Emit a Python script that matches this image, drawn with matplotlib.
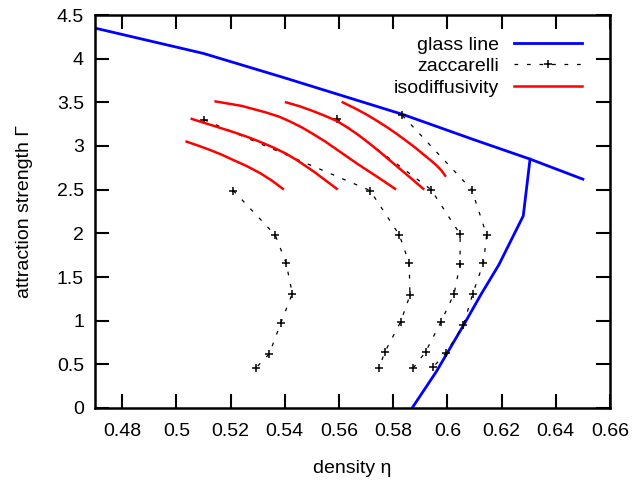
import matplotlib
matplotlib.use('Agg')
import matplotlib.pyplot as plt
from matplotlib.ticker import FuncFormatter

plt.rcParams['font.family'] = ['Liberation Sans', 'DejaVu Sans']

# glass transition line: upper branch and the re-entrant lower branch
glass_upper_eta = [0.470, 0.510, 0.540, 0.5837, 0.610, 0.6305, 0.650]
glass_upper_gam = [4.35, 4.06, 3.78, 3.36, 3.07, 2.85, 2.62]
glass_lower_eta = [0.6305, 0.628, 0.619, 0.6124, 0.606, 0.596, 0.587]
glass_lower_gam = [2.85, 2.20, 1.64, 1.30, 0.95, 0.42, 0.0]

# Zaccarelli et al. iso-diffusivity points, one list per curve
zac_eta = [
    [0.521, 0.5365, 0.5405, 0.5428, 0.5385, 0.5343, 0.5294],
    [0.5103, 0.5715, 0.5823, 0.5859, 0.5862, 0.5828, 0.577, 0.5748],
    [0.5592, 0.594, 0.6047, 0.6047, 0.6025, 0.5977, 0.592, 0.5875],
    [0.5834, 0.609, 0.6145, 0.6133, 0.6094, 0.6059, 0.5995, 0.5948],
]
zac_gam = [
    [2.49, 1.98, 1.66, 1.31, 0.97, 0.62, 0.46],
    [3.30, 2.49, 1.98, 1.66, 1.29, 0.99, 0.645, 0.46],
    [3.31, 2.50, 1.99, 1.65, 1.31, 0.99, 0.645, 0.46],
    [3.35, 2.50, 1.98, 1.66, 1.31, 0.95, 0.63, 0.47],
]

# our isodiffusivity curves
iso_eta = [
    [0.5038, 0.5080, 0.5124, 0.5168, 0.5210, 0.5260, 0.5309, 0.5352, 0.5393],
    [0.5057, 0.5149, 0.5210, 0.5266, 0.5315, 0.5360, 0.5403, 0.5444, 0.5506, 0.5592],
    [0.5145, 0.5240, 0.5330, 0.5380, 0.5420, 0.5465, 0.5506, 0.5550, 0.5592, 0.5666, 0.5740, 0.5807],
    [0.5405, 0.5455, 0.5500, 0.5545, 0.5590, 0.5630, 0.5670, 0.5710, 0.5750, 0.5790, 0.5830, 0.5870, 0.5911],
    [0.5614, 0.5660, 0.5702, 0.5742, 0.5780, 0.5815, 0.5850, 0.5882, 0.5911, 0.5937, 0.5961, 0.5978, 0.5992],
]
iso_gam = [
    [3.05, 3.005, 2.955, 2.90, 2.84, 2.77, 2.69, 2.605, 2.51],
    [3.31, 3.22, 3.16, 3.10, 3.04, 2.98, 2.915, 2.84, 2.71, 2.51],
    [3.51, 3.46, 3.385, 3.335, 3.28, 3.21, 3.135, 3.05, 2.96, 2.80, 2.65, 2.51],
    [3.50, 3.455, 3.405, 3.35, 3.29, 3.215, 3.13, 3.035, 2.935, 2.83, 2.725, 2.62, 2.51],
    [3.50, 3.43, 3.36, 3.285, 3.21, 3.135, 3.055, 2.98, 2.905, 2.84, 2.775, 2.72, 2.66],
]

fs = 14

fig = plt.figure(figsize=(6.36, 4.82), dpi=100)
ax = fig.add_axes([95/636, 1 - 408/482, (610 - 95)/636, (408 - 15)/482])

ax.plot(glass_upper_eta, glass_upper_gam, color='#0000ff', lw=2.0, label='glass line')
ax.plot(glass_lower_eta, glass_lower_gam, color='#0000ff', lw=2.0)

for i, (e, g) in enumerate(zip(zac_eta, zac_gam)):
    ax.plot(e, g, color='black', lw=0.9, ls=(0, (3, 7)), marker='+', ms=6, mew=1.1,
            label='zaccarelli' if i == 0 else None)

for i, (e, g) in enumerate(zip(iso_eta, iso_gam)):
    ax.plot(e, g, color='#ff0000', lw=1.8, solid_joinstyle='round',
            label='isodiffusivity' if i == 0 else None)

ax.set_xlim(0.47, 0.66)
ax.set_ylim(0, 4.5)
ax.set_xticks([0.48 + 0.02 * k for k in range(10)])
ax.set_yticks([0.5 * k for k in range(10)])
ax.xaxis.set_major_formatter(FuncFormatter(lambda v, p: '%g' % round(v, 2)))
ax.yaxis.set_major_formatter(FuncFormatter(lambda v, p: '%g' % round(v, 1)))
ax.tick_params(direction='in', length=10, width=1.5, labelsize=fs,
               top=True, right=True)
ax.tick_params(axis='x', pad=11)
ax.tick_params(axis='y', pad=8)
for s in ax.spines.values():
    s.set_linewidth(1.8)

ax.set_xlabel('density η', fontsize=fs, labelpad=14)
ax.set_ylabel('attraction strength Γ', fontsize=fs, labelpad=17)

ax.legend(loc='upper right', bbox_to_anchor=(0.972, 0.981), frameon=False,
          markerfirst=False, fontsize=fs, handlelength=3.5,
          handletextpad=0.75, labelspacing=0.2, borderpad=0.2)

plt.savefig('out.png', dpi=100)
